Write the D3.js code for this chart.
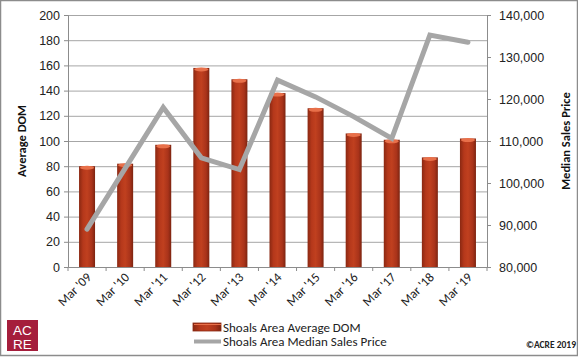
<!DOCTYPE html>
<html><head><meta charset="utf-8">
<script src="https://cdn.jsdelivr.net/npm/d3@7"></script>
<style>
html,body{margin:0;padding:0;background:#fff;}
svg{display:block;font-family:Carlito,Calibri,"Open Sans",sans-serif;}
</style></head>
<body><svg id="c" width="578" height="357"></svg>
<script>
const categories = ["Mar '09","Mar '10","Mar '11","Mar '12","Mar '13","Mar '14","Mar '15","Mar '16","Mar '17","Mar '18","Mar '19"];
const avgDOM = [80, 82, 97, 158, 149, 138, 126, 106, 101, 87, 102];
const medianPrice = [89000, 103500, 118000, 106000, 103200, 124500, 120500, 115800, 110600, 135200, 133500];
const leftTicks = [0,20,40,60,80,100,120,140,160,180,200];
const rightTicks = [80000,90000,100000,110000,120000,130000,140000];
const seriesNames = ["Shoals Area Average DOM","Shoals Area Median Sales Price"];

const svg = d3.select("#c");
const m = {l:68, r:487, t:15, b:267};
const x = d3.scaleBand().domain(categories).range([m.l, m.r]);
const yL = d3.scaleLinear().domain([0,200]).range([m.b, m.t]);
const yR = d3.scaleLinear().domain([80000,140000]).range([m.b, m.t]);

// border
svg.append("rect").attr("x",0.5).attr("y",0.5).attr("width",577).attr("height",355)
  .attr("fill","#fff").attr("stroke","#8c8c8c").attr("stroke-width",1.5);

const defs = svg.append("defs");
const g = defs.append("linearGradient").attr("id","barG").attr("x1","0").attr("x2","1").attr("y1","0").attr("y2","0");
[[0,"#8a2812"],[0.25,"#b5381b"],[0.5,"#c0401f"],[0.8,"#a9331a"],[1,"#7c2410"]].forEach(s=>g.append("stop").attr("offset",s[0]).attr("stop-color",s[1]));

// gridlines
svg.append("g").selectAll("line").data(leftTicks.slice(1)).join("line")
  .attr("x1",m.l).attr("x2",m.r).attr("y1",d=>yL(d)+0.5).attr("y2",d=>yL(d)+0.5)
  .attr("stroke","#a6a6a6").attr("stroke-width",1);

// axes
const axL = svg.append("g").attr("transform",`translate(${m.l},0)`)
  .call(d3.axisLeft(yL).tickValues(leftTicks).tickSize(4).tickPadding(4));
const axR = svg.append("g").attr("transform",`translate(${m.r},0)`)
  .call(d3.axisRight(yR).tickValues(rightTicks).tickSize(4).tickPadding(8).tickFormat(d3.format(",")));
const axB = svg.append("g").attr("transform",`translate(0,${m.b})`)
  .call(d3.axisBottom(x).tickSize(0).tickFormat(""));
// x tick marks at band boundaries
const bounds = categories.map(c=>x(c)).concat([m.r]);
svg.append("g").selectAll("line").data(bounds).join("line")
  .attr("x1",d=>d).attr("x2",d=>d).attr("y1",m.b).attr("y2",m.b+4).attr("stroke","#8c8c8c");
[axL,axR,axB].forEach(a=>{
  a.selectAll(".domain").attr("stroke","#8c8c8c");
  a.selectAll(".tick line").attr("stroke","#8c8c8c");
  a.selectAll("text").attr("fill","#222").attr("font-size","12.5px");
});

// x labels
svg.append("g").selectAll("text").data(categories).join("text")
  .attr("transform",d=>`translate(${x(d)+x.bandwidth()/2+5},${m.b+11}) rotate(-45)`)
  .attr("text-anchor","end").attr("font-size","13px").attr("fill","#222").text(d=>d);

// bars
const bw = 16;
const bars = svg.append("g").selectAll("g").data(avgDOM).join("g");
bars.append("rect")
  .attr("x",(d,i)=>x(categories[i])+x.bandwidth()/2-bw/2)
  .attr("y",d=>yL(d)).attr("width",bw).attr("height",d=>m.b-yL(d))
  .attr("fill","url(#barG)");
bars.append("ellipse")
  .attr("cx",(d,i)=>x(categories[i])+x.bandwidth()/2)
  .attr("cy",d=>yL(d)+1.5).attr("rx",bw/2-1).attr("ry",2)
  .attr("fill","#e8704a");

// line
const line = d3.line().x((d,i)=>x(categories[i])+x.bandwidth()/2).y(d=>yR(d));
svg.append("path").datum(medianPrice).attr("d",line).attr("fill","none")
  .attr("stroke","#a6a6a6").attr("stroke-width",5).attr("stroke-linejoin","miter").attr("stroke-linecap","round");

// axis titles
svg.append("text").attr("transform","translate(26,141) rotate(-90)").attr("text-anchor","middle")
  .attr("font-weight","bold").attr("font-size","12.5px").attr("fill","#111").text("Average DOM");
svg.append("text").attr("transform","translate(570,141) rotate(-90)").attr("text-anchor","middle")
  .attr("font-weight","bold").attr("font-size","12.5px").attr("fill","#111").text("Median Sales Price");

// legend
const lg = svg.append("g");
lg.append("rect").attr("x",193).attr("y",323).attr("width",28).attr("height",8)
  .attr("fill","url(#barG)").attr("stroke","#8a2812").attr("stroke-width",0.8);
lg.append("line").attr("x1",194).attr("x2",221).attr("y1",324.5).attr("y2",324.5).attr("stroke","#e8704a").attr("stroke-width",1);
lg.append("line").attr("x1",194).attr("x2",221).attr("y1",341.5).attr("y2",341.5)
  .attr("stroke","#a6a6a6").attr("stroke-width",4);
lg.selectAll("text").data(seriesNames).join("text")
  .attr("x",223).attr("y",(d,i)=>331.5+i*14).attr("font-size","13px").attr("fill","#222").text(d=>d);

// logo
svg.append("rect").attr("x",7).attr("y",320).attr("width",31).attr("height",31).attr("fill","#a51e3c");
svg.append("text").attr("x",22.5).attr("y",334.5).attr("text-anchor","middle").attr("fill","#fff")
  .attr("font-size","13.5px").attr("font-family","Liberation Sans, Arial, sans-serif").text("AC");
svg.append("text").attr("x",22.5).attr("y",348.5).attr("text-anchor","middle").attr("fill","#fff")
  .attr("font-size","13.5px").attr("font-family","Liberation Sans, Arial, sans-serif").text("RE");

// copyright
svg.append("text").attr("x",576).attr("y",348).attr("text-anchor","end").attr("font-weight","bold")
  .attr("font-size","9.5px").attr("fill","#222").text("©ACRE 2019");
</script></body></html>
